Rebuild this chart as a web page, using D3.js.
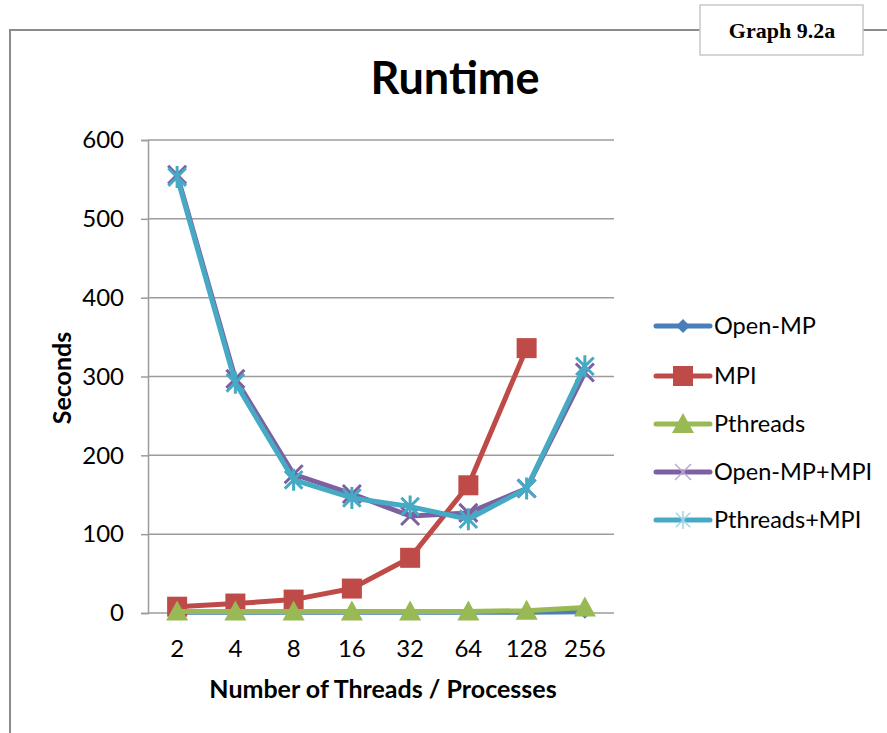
<!DOCTYPE html>
<html><head><meta charset="utf-8">
<script src="https://cdn.jsdelivr.net/npm/d3@7"></script>
<style>body{margin:0;background:#fff}svg{display:block}</style>
</head><body>
<script>
const categories = ["2","4","8","16","32","64","128","256"];
const openMP = [1,1,1,1,1,1,1,1.5];
const mpi = [8,12,17,31,70,162,336,null];
const pthreads = [2,2,2,2,2,2,3,7];
const openMPMPI = [556,297,176,151,123,127,158,305];
const pthreadsMPI = [553,292,169,146,135,119,158,313];
const yTicks = [0,100,200,300,400,500,600];
const seriesNames = ["Open-MP","MPI","Pthreads","Open-MP+MPI","Pthreads+MPI"];
const seriesValues = [openMP, mpi, pthreads, openMPMPI, pthreadsMPI];
const colors = ["#4a7ebb","#be4b48","#98b954","#7d60a0","#46aac5"];
const markers = ["diamond","square","triangle","x","star"];

const W=887,H=733;
const svg=d3.select("body").append("svg").attr("width",W).attr("height",H);

// outer frame
svg.append("path").attr("d","M10,733 L10,30 L700,30 M863,30 L887,30")
  .attr("fill","none").attr("stroke","#8c8c8c").attr("stroke-width",2);
svg.append("rect").attr("x",700).attr("y",5).attr("width",163).attr("height",50)
  .attr("fill","#fff").attr("stroke","#c8c8c8").attr("stroke-width",1.5);
svg.append("text").attr("x",782).attr("y",38).attr("text-anchor","middle")
  .attr("font-family","Liberation Serif").attr("font-weight","bold").attr("font-size",22)
  .text("Graph 9.2a");

svg.append("text").attr("x",455).attr("y",94).attr("text-anchor","middle")
  .attr("font-family","Lato").attr("font-weight","bold").attr("font-size",45)
  .text("Runtime");

const x=d3.scaleBand().domain(categories).range([148,614]);
const y=d3.scaleLinear().domain([0,600]).range([613,140]);

// gridlines
svg.append("g").selectAll("line").data(yTicks).join("line")
  .attr("x1",148).attr("x2",614).attr("y1",d=>y(d)).attr("y2",d=>y(d))
  .attr("stroke","#9c9c9c").attr("stroke-width",1.5);

const yAxis=svg.append("g").attr("transform","translate(148,0)")
  .call(d3.axisLeft(y).tickValues(yTicks).tickSize(7).tickPadding(17));
yAxis.select(".domain").attr("stroke","#9c9c9c").attr("stroke-width",1.5);
yAxis.selectAll(".tick line").attr("stroke","#9c9c9c").attr("stroke-width",1.5);
yAxis.selectAll("text").attr("font-family","Lato").attr("font-size",24).attr("fill","#000");

const xAxis=svg.append("g").attr("transform","translate(0,613)")
  .call(d3.axisBottom(x).tickSize(0).tickPadding(27));
xAxis.select(".domain").remove();
xAxis.selectAll("text").attr("font-family","Lato").attr("font-size",24).attr("fill","#000");

svg.append("text").attr("x",383).attr("y",698).attr("text-anchor","middle")
  .attr("font-family","Lato").attr("font-weight","bold").attr("font-size",25)
  .text("Number of Threads / Processes");
svg.append("text").attr("transform","translate(71,378) rotate(-90)").attr("text-anchor","middle")
  .attr("font-family","Lato").attr("font-weight","bold").attr("font-size",25)
  .text("Seconds");

function drawMarker(g,type,cx,cy,color,legend){
  if(type==="diamond"){
    g.append("path").attr("d",`M${cx},${cy-7}L${cx+7},${cy}L${cx},${cy+7}L${cx-7},${cy}Z`).attr("fill",color);
  } else if(type==="square"){
    g.append("rect").attr("x",cx-10).attr("y",cy-10).attr("width",20).attr("height",20).attr("fill",color);
  } else if(type==="triangle"){
    g.append("path").attr("d",`M${cx},${cy-11}L${cx+11},${cy+9}L${cx-11},${cy+9}Z`).attr("fill",color);
  } else if(type==="x"){
    const s=legend?8:9;
    g.append("path").attr("d",`M${cx-s},${cy-s}L${cx+s},${cy+s}M${cx-s},${cy+s}L${cx+s},${cy-s}`)
      .attr("stroke",legend?"#b9a8d4":color).attr("stroke-width",legend?1.5:3);
  } else if(type==="star"){
    const s=legend?9:11;
    g.append("path").attr("d",`M${cx-s*0.8},${cy-s*0.8}L${cx+s*0.8},${cy+s*0.8}M${cx-s*0.8},${cy+s*0.8}L${cx+s*0.8},${cy-s*0.8}M${cx},${cy-s}L${cx},${cy+s}`)
      .attr("stroke",legend?"#9fd6e6":color).attr("stroke-width",legend?1.5:3);
  }
}

const line=d3.line().defined(d=>d.v!=null).x(d=>x(d.c)+x.bandwidth()/2).y(d=>y(d.v));
seriesValues.forEach((vals,i)=>{
  const data=categories.map((c,j)=>({c,v:vals[j]}));
  const g=svg.append("g");
  g.append("path").datum(data).attr("d",line).attr("fill","none")
    .attr("stroke",colors[i]).attr("stroke-width",5).attr("stroke-linejoin","round");
  data.filter(d=>d.v!=null).forEach(d=>drawMarker(g,markers[i],x(d.c)+x.bandwidth()/2,y(d.v),colors[i],false));
});

// legend
const legendY=[326,376,424,472,520];
seriesNames.forEach((n,i)=>{
  const g=svg.append("g");
  g.append("line").attr("x1",656).attr("x2",710).attr("y1",legendY[i]).attr("y2",legendY[i])
    .attr("stroke",colors[i]).attr("stroke-width",5).attr("stroke-linecap","round");
  drawMarker(g,markers[i],683,legendY[i],colors[i],true);
  g.append("text").attr("x",714).attr("y",legendY[i]+8).attr("font-family","Lato")
    .attr("font-size",23.5).text(n);
});
</script>
</body></html>
